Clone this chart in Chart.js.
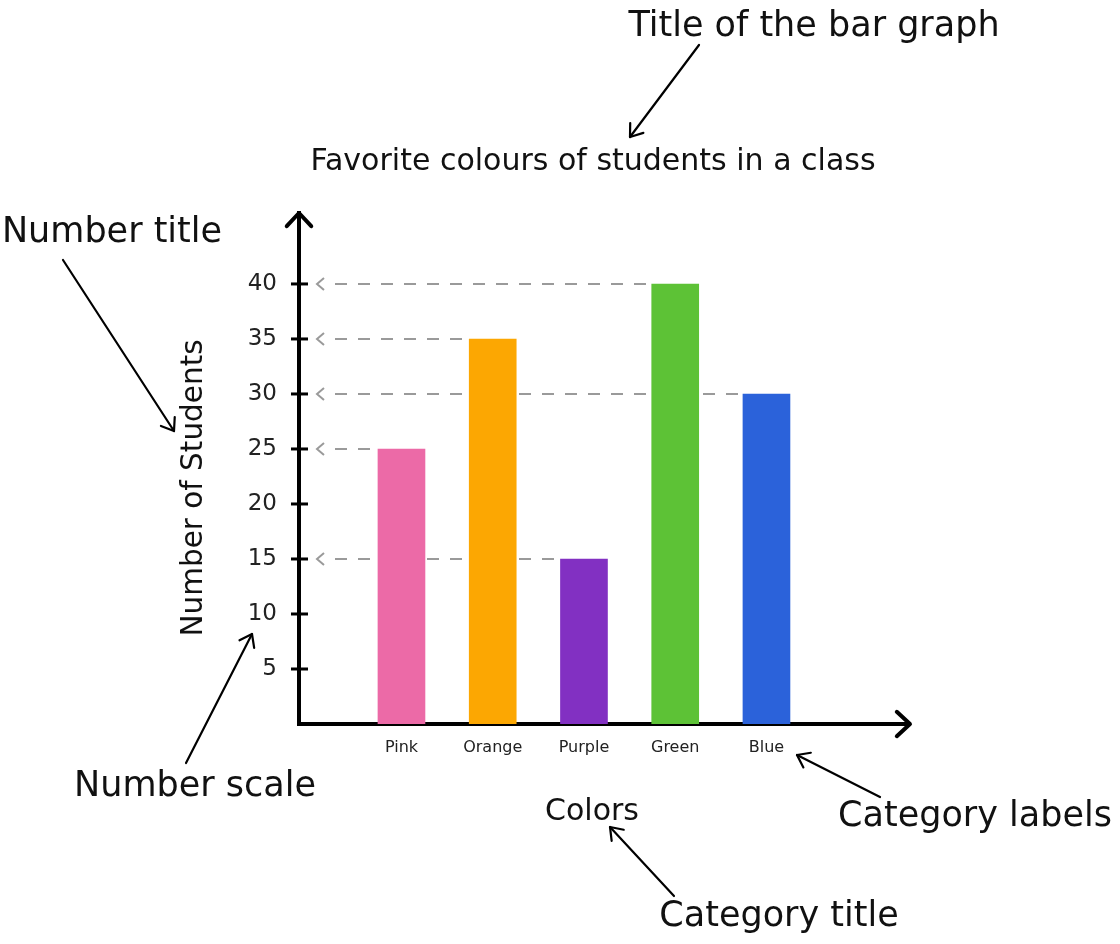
<!DOCTYPE html>
<html>
<head>
<meta charset="utf-8">
<title>Favorite colours of students in a class</title>
<script src="https://cdn.jsdelivr.net/npm/chart.js@4.4.1/dist/chart.umd.min.js"></script>
<style>
  html, body { margin: 0; padding: 0; background: #ffffff; }
  #wrap { width: 1120px; height: 944px; }
</style>
</head>
<body>
<div id="wrap"><canvas id="chart" width="1120" height="944"></canvas></div>
<script>
// ---- data ----
const categories = ['Pink', 'Orange', 'Purple', 'Green', 'Blue'];
const students = [25, 35, 15, 40, 30];
const barColors = ['#EC6AA7', '#FCA702', '#8230C2', '#5DC236', '#2B62DA'];
const yTickValues = [5, 10, 15, 20, 25, 30, 35, 40];

// ---- text ----
const chartTitle = 'Favorite colours of students in a class';
const yAxisTitle = 'Number of Students';
const xAxisTitle = 'Colors';
const callouts = [
  { text: 'Title of the bar graph', x: 814, y: 27,  from: [699, 45],  to: [630, 137] },
  { text: 'Number title',           x: 112, y: 233, from: [63, 260],  to: [174, 431] },
  { text: 'Number scale',           x: 195, y: 787, from: [186, 763], to: [252, 634] },
  { text: 'Category labels',        x: 975, y: 817, from: [880, 797], to: [797, 755] },
  { text: 'Category title',         x: 779, y: 917, from: [674, 896], to: [610, 827] }
];

const FONT = '"DejaVu Sans", "Open Sans", sans-serif';
const INK = '#111111';

function arrowHead(ctx, x1, y1, x2, y2, len, spread) {
  const a = Math.atan2(y2 - y1, x2 - x1);
  ctx.beginPath();
  ctx.moveTo(x2 - len * Math.cos(a - spread), y2 - len * Math.sin(a - spread));
  ctx.lineTo(x2, y2);
  ctx.lineTo(x2 - len * Math.cos(a + spread), y2 - len * Math.sin(a + spread));
  ctx.stroke();
}

// dashed guides from each bar top back to the value axis
const guideLines = {
  id: 'guideLines',
  beforeDatasetsDraw(chart) {
    const { ctx, scales: { y }, chartArea } = chart;
    const meta = chart.getDatasetMeta(0);
    ctx.save();
    ctx.strokeStyle = '#9a9a9a';
    ctx.lineWidth = 2;
    meta.data.forEach((bar, i) => {
      const py = y.getPixelForValue(students[i]);
      const left = bar.x - bar.width / 2;
      ctx.setLineDash([12, 11]);
      ctx.beginPath();
      ctx.moveTo(chartArea.left + 36, py);
      ctx.lineTo(left, py);
      ctx.stroke();
      ctx.setLineDash([]);
      ctx.beginPath();
      ctx.moveTo(chartArea.left + 25, py - 6);
      ctx.lineTo(chartArea.left + 18, py);
      ctx.lineTo(chartArea.left + 25, py + 6);
      ctx.stroke();
    });
    ctx.restore();
  }
};

// axis arrows, tick marks, titles and callouts
const decorations = {
  id: 'decorations',
  afterDraw(chart) {
    const { ctx, chartArea, scales: { y } } = chart;
    ctx.save();
    ctx.strokeStyle = '#000';
    ctx.lineCap = 'round';
    ctx.lineJoin = 'round';

    // axis arrowheads
    ctx.lineWidth = 4;
    arrowHead(ctx, chartArea.left, chartArea.bottom, chartArea.left, chartArea.top, 18, Math.PI / 4.2);
    arrowHead(ctx, chartArea.left, chartArea.bottom, chartArea.right, chartArea.bottom, 18, Math.PI / 4.2);

    // value tick marks crossing the axis
    ctx.lineWidth = 3;
    ctx.lineCap = 'butt';
    y.ticks.forEach(t => {
      const py = y.getPixelForValue(t.value);
      ctx.beginPath();
      ctx.moveTo(chartArea.left - 8, py);
      ctx.lineTo(chartArea.left + 9, py);
      ctx.stroke();
    });

    // titles
    ctx.fillStyle = INK;
    ctx.textAlign = 'center';
    ctx.textBaseline = 'middle';
    ctx.font = '30px ' + FONT;
    ctx.fillText(chartTitle, 593, 162);
    ctx.font = '30px ' + FONT;
    ctx.fillText(xAxisTitle, 592, 812);
    ctx.save();
    ctx.translate(194, 488);
    ctx.rotate(-Math.PI / 2);
    ctx.font = '29.5px ' + FONT;
    ctx.fillText(yAxisTitle, 0, 0);
    ctx.restore();

    // callouts
    ctx.font = '35px ' + FONT;
    ctx.lineWidth = 2.2;
    ctx.lineCap = 'round';
    callouts.forEach(c => {
      ctx.fillText(c.text, c.x, c.y);
      ctx.beginPath();
      ctx.moveTo(c.from[0], c.from[1]);
      ctx.lineTo(c.to[0], c.to[1]);
      ctx.stroke();
      arrowHead(ctx, c.from[0], c.from[1], c.to[0], c.to[1], 14, Math.PI / 5);
    });
    ctx.restore();
  }
};

new Chart(document.getElementById('chart'), {
  type: 'bar',
  data: {
    datasets: [{
      label: yAxisTitle,
      data: categories.map((c, i) => ({ x: i + 1, y: students[i] })),
      backgroundColor: barColors,
      borderWidth: 0,
      barThickness: 47
    }]
  },
  options: {
    responsive: false,
    animation: false,
    devicePixelRatio: 1,
    layout: { padding: { top: 213, left: 219, right: 210, bottom: 160 } },
    plugins: {
      legend: { display: false },
      title: { display: false },
      tooltip: { enabled: false }
    },
    scales: {
      x: {
        type: 'linear',
        offset: false,
        min: -0.123,
        max: 6.573,
        afterBuildTicks: axis => { axis.ticks = categories.map((c, i) => ({ value: i + 1 })); },
        afterFit: axis => { axis.height = 60; },
        grid: { display: false, drawTicks: false },
        border: { display: true, color: '#000', width: 4 },
        ticks: {
          padding: 14,
          color: '#222',
          font: { family: FONT, size: 16 },
          autoSkip: false,
          maxRotation: 0,
          callback: v => categories[v - 1]
        }
      },
      y: {
        type: 'linear',
        min: 0,
        max: 46.45,
        afterBuildTicks: axis => { axis.ticks = yTickValues.map(v => ({ value: v })); },
        afterFit: axis => { axis.width = 80; },
        grid: { display: false, drawTicks: false },
        border: { display: true, color: '#000', width: 4 },
        ticks: {
          padding: 22,
          color: '#222',
          font: { family: FONT, size: 23 }
        }
      }
    }
  },
  plugins: [guideLines, decorations]
});
</script>
</body>
</html>
